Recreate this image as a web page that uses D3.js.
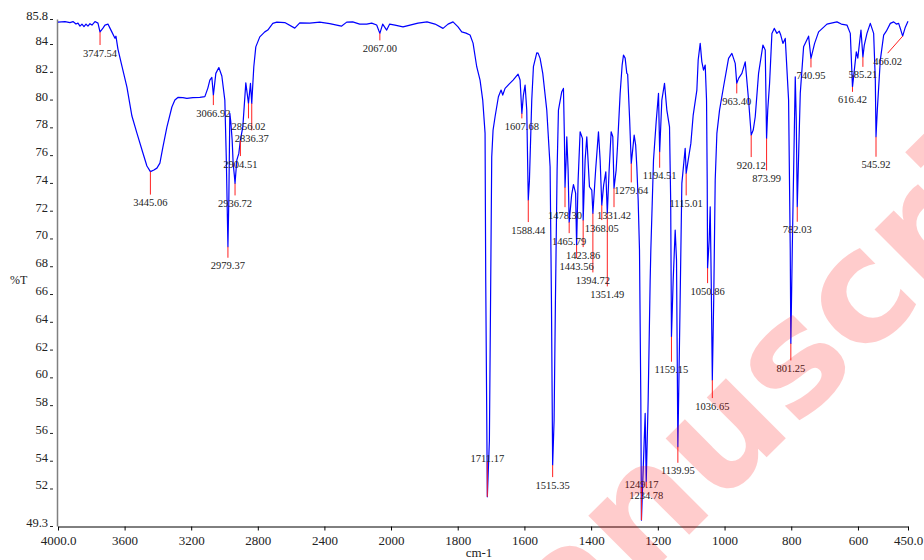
<!DOCTYPE html>
<html>
<head>
<meta charset="utf-8">
<script src="https://cdn.jsdelivr.net/npm/d3@7"></script>
<style>
body { margin: 0; background: #fff; }
svg text { font-family: "Liberation Serif", "Times New Roman", serif; }
</style>
</head>
<body>
<svg id="chart" width="924" height="560"></svg>
<script>
'use strict';

// spectrum (wavenumber cm-1 / %T)
var wavenumber = [
	4000, 3958, 3928, 3910, 3892, 3880, 3868, 3856, 3844, 3832, 3820, 3808, 3796, 3778, 3760,
	3747.54, 3730, 3718, 3700, 3688, 3676, 3664, 3658, 3652, 3640, 3616, 3586, 3556, 3526, 3490,
	3466, 3445.06, 3424, 3406, 3388, 3370, 3346, 3316, 3298, 3280, 3250, 3226, 3190, 3148, 3118,
	3100, 3088, 3076, 3066.92, 3052, 3034, 3016, 2998, 2989, 2979.37, 2974, 2968, 2962, 2954, 2948,
	2941, 2936.72, 2926, 2914, 2904.51, 2890, 2872, 2856.02, 2844, 2836.37, 2824, 2812, 2788, 2758, 2740,
	2710, 2686, 2638, 2578, 2548, 2488, 2428, 2368, 2298, 2266, 2230, 2188, 2146, 2116, 2086,
	2067.00, 2050, 2026, 2008, 1988, 1964, 1943, 1919, 1892, 1868, 1844, 1829, 1814, 1799, 1788,
	1775, 1763, 1754, 1743, 1733, 1725, 1718, 1716, 1711.17, 1705, 1701, 1698, 1694, 1688, 1678,
	1670, 1665, 1658, 1646, 1634, 1619, 1613, 1607.68, 1603, 1598, 1593, 1588.44, 1585, 1578, 1573,
	1563, 1559, 1553, 1545, 1533, 1523, 1519, 1515.35, 1511, 1507, 1502, 1498, 1488, 1483, 1480,
	1478.30, 1475, 1473, 1469, 1465.79, 1458.5, 1453, 1446.5, 1443.56, 1439, 1433, 1426, 1423.86, 1418, 1413,
	1405, 1398, 1394.72, 1386.5, 1378, 1373, 1368.05, 1362.5, 1356, 1351.49, 1346, 1340, 1335, 1331.42, 1325,
	1321, 1313, 1307, 1303, 1298, 1293, 1290.5, 1284.5, 1279.64, 1275.5, 1271, 1266.5, 1263, 1259, 1255,
	1251, 1249.17, 1244, 1238, 1234.78, 1229, 1223, 1221, 1213, 1205, 1198, 1194.51, 1188, 1180, 1173,
	1165, 1161.5, 1159.15, 1154, 1148, 1144, 1139.95, 1134.5, 1128, 1118, 1115.01, 1109, 1101, 1094, 1083,
	1079, 1073, 1068, 1063, 1058, 1054, 1052, 1050.86, 1046, 1043, 1040, 1036.65, 1032.5, 1028, 1023,
	1015, 1003, 988, 978, 968, 963.40, 957.5, 948, 938, 928, 920.12, 914, 908, 898, 885,
	878, 873.99, 870.5, 865, 858, 851, 843, 836, 831.5, 825, 818, 808, 803, 801.25, 797,
	788, 785, 782.03, 777.5, 773, 763, 748, 740.95, 730, 718, 693, 680, 663, 650, 633,
	623, 616.42, 612.5, 605, 600.5, 591, 585.21, 581, 573, 563, 553, 548, 545.92, 542, 533,
	523, 515, 503, 493, 485, 478, 471.5, 466.02, 458, 450
];
var transmittance = [
	85.61, 85.65, 85.58, 85.65, 85.47, 85.54, 85.32, 85.47, 85.29, 85.47, 85.32, 85.50, 85.40, 85.65, 85.54,
	84.90, 85.18, 85.40, 85.47, 85.18, 84.89, 84.60, 84.46, 84.60, 83.67, 82.45, 80.93, 78.85, 77.62, 76.19,
	75.25, 74.85, 74.96, 75.10, 75.46, 76.61, 78.05, 79.50, 80.00, 80.19, 80.18, 80.12, 80.18, 80.19, 80.25,
	80.86, 81.44, 81.63, 80.36, 81.92, 82.34, 81.73, 80.00, 75.68, 69.44, 72.80, 79.04, 78.40, 77.12, 75.44,
	74.60, 74.00, 75.68, 76.16, 77.12, 78.07, 81.24, 79.76, 81.20, 79.76, 82.40, 83.83, 84.55, 84.91, 85.04,
	85.52, 85.61, 85.58, 85.18, 85.56, 85.54, 85.61, 85.50, 85.32, 85.61, 85.63, 85.47, 85.47, 85.54, 85.40,
	84.80, 85.47, 85.04, 85.47, 85.40, 85.27, 85.40, 85.54, 85.63, 85.47, 85.16, 85.47, 85.63, 85.27, 84.91,
	84.82, 84.68, 84.10, 82.40, 81.44, 80.00, 77.62, 67.04, 51.44, 55.50, 67.04, 75.90, 77.84, 78.80, 80.24,
	80.72, 80.36, 80.84, 81.15, 81.44, 81.87, 81.44, 79.04, 80.36, 81.08, 79.28, 72.80, 74.20, 80.00, 82.40,
	83.40, 83.38, 83.00, 81.92, 79.28, 75.20, 65.60, 53.72, 56.96, 65.60, 74.96, 79.28, 80.60, 80.84, 77.12,
	73.73, 75.68, 77.36, 74.96, 71.21, 73.16, 73.91, 73.30, 69.56, 74.24, 77.72, 77.24, 71.36, 75.68, 77.36,
	73.76, 73.52, 71.84, 74.96, 77.72, 75.68, 72.44, 73.88, 74.84, 71.84, 74.96, 77.72, 77.36, 73.66, 74.96,
	76.64, 80.48, 82.52, 83.24, 83.02, 81.92, 81.87, 78.56, 75.44, 76.40, 77.48, 76.76, 75.20, 72.80, 69.20,
	58.40, 49.76, 53.36, 57.44, 52.52, 58.40, 67.04, 69.20, 75.68, 78.44, 80.48, 76.28, 80.00, 81.20, 79.28,
	78.07, 72.80, 62.96, 67.04, 70.64, 68.48, 55.04, 63.44, 74.00, 76.52, 74.72, 75.68, 76.88, 78.92, 80.72,
	82.90, 84.08, 82.75, 82.16, 82.52, 80.00, 74.24, 67.90, 69.92, 72.32, 67.04, 59.84, 65.60, 74.24, 77.60,
	79.28, 80.96, 83.00, 83.36, 82.64, 81.20, 81.58, 81.92, 82.75, 80.00, 77.48, 77.84, 78.80, 81.92, 83.96,
	83.60, 77.24, 79.28, 81.20, 84.80, 85.16, 84.80, 84.96, 84.68, 84.08, 84.44, 80.00, 69.20, 62.48, 69.20,
	81.67, 78.56, 72.32, 76.40, 80.48, 83.83, 84.60, 83.00, 84.08, 84.91, 85.47, 85.54, 85.63, 85.47, 85.40,
	84.80, 80.95, 81.80, 83.47, 83.02, 85.04, 83.11, 83.96, 84.80, 85.52, 84.80, 81.44, 77.36, 79.28, 82.88,
	84.68, 84.96, 85.52, 85.63, 85.47, 85.52, 85.04, 84.60, 85.25, 85.68
];

// picked peaks
var peakLabels = [
	'3747.54', '3445.06', '3066.92', '2979.37', '2936.72', '2904.51', '2856.02', '2836.37', '2067.00',
	'1711.17', '1607.68', '1588.44', '1515.35', '1478.30', '1465.79', '1443.56', '1423.86', '1394.72',
	'1368.05', '1351.49', '1331.42', '1279.64', '1249.17', '1234.78', '1194.51', '1159.15', '1139.95',
	'1115.01', '1050.86', '1036.65', '963.40', '920.12', '873.99', '801.25', '782.03', '740.95',
	'616.42', '585.21', '545.92', '466.02'
];

var xTicks = [4000, 3600, 3200, 2800, 2400, 2000, 1800, 1600, 1400, 1200, 1000, 800, 600, 450];
var xTickLabels = ['4000.0', '3600', '3200', '2800', '2400', '2000', '1800', '1600', '1400', '1200', '1000', '800', '600', '450.0'];
var yTicks = [85.8, 84, 82, 80, 78, 76, 74, 72, 70, 68, 66, 64, 62, 60, 58, 56, 54, 52, 49.3];
var yTickLabels = ['85.8', '84', '82', '80', '78', '76', '74', '72', '70', '68', '66', '64', '62', '60', '58', '56', '54', '52', '49.3'];

// leader lengths under each peak (px), negative = goes up, label above
var leaderLen = [13, 23, 10, 11, 12, 16, 15, 27, 7, -35, 5, 22, 12, 20, 11, 13, 27, 59, 15, 73,
	19, 19, -33, 6, 16, 25, 16, 22, 15, 18, 10, 22, 32, 17, 15, 9, 5, 10, 20, 17];
var leaderDx = peakLabels.map(function (l) { return l === '466.02' ? -15 : 0; });

var svg = d3.select('#chart');

// the x scale is compressed above 2000 cm-1
var x = d3.scaleLinear().domain([4000, 2000, 450]).range([58, 391, 908]);
var y = d3.scaleLinear().domain([49.3, 85.8]).range([526.5, 19.5]);

var points = wavenumber.map(function (w, i) { return [w, transmittance[i]]; });
var tAt = {};
points.forEach(function (p) { tAt[p[0].toFixed(2)] = p[1]; });

// axes
var xAxis = d3.axisBottom(x)
	.tickValues(xTicks)
	.tickFormat(function (d, i) { return xTickLabels[i]; })
	.tickSize(4)
	.tickSizeOuter(0)
	.tickPadding(5);
var gx = svg.append('g')
	.attr('transform', 'translate(0,526.5)')
	.call(xAxis);
gx.select('.domain').attr('stroke', '#000');
gx.selectAll('text')
	.attr('font-size', '13px')
	.attr('fill', '#222')
	.style('font-family', '"Liberation Serif", serif');

var gy = svg.append('g');
gy.append('line')
	.attr('x1', 57.5).attr('x2', 57.5)
	.attr('y1', y(85.8)).attr('y2', y(49.3))
	.attr('stroke', '#808080')
	.attr('stroke-width', 1.5);
gy.selectAll('line.tick')
	.data(yTicks)
	.enter()
	.append('line')
		.classed('tick', true)
		.attr('x1', 50).attr('x2', 53)
		.attr('y1', function (d) { return y(d); })
		.attr('y2', function (d) { return y(d); })
		.attr('stroke', '#222');
gy.selectAll('text')
	.data(yTicks)
	.enter()
	.append('text')
		.attr('x', 48)
		.attr('y', function (d) { return y(d) + 0.5; })
		.attr('text-anchor', 'end')
		.attr('font-size', '12.5px')
		.attr('fill', '#222')
		.text(function (d, i) { return yTickLabels[i]; });

svg.append('text')
	.attr('x', 10).attr('y', 284)
	.attr('font-size', '12px')
	.attr('fill', '#222')
	.text('%T');
svg.append('text')
	.attr('x', 479).attr('y', 557)
	.attr('text-anchor', 'middle')
	.attr('font-size', '13px')
	.attr('fill', '#222')
	.text('cm-1');

// spectrum
var line = d3.line()
	.x(function (d) { return x(d[0]); })
	.y(function (d) { return y(d[1]); });
svg.append('path')
	.datum(points)
	.attr('d', line)
	.attr('fill', 'none')
	.attr('stroke', '#0000ff')
	.attr('stroke-width', 1.2)
	.attr('stroke-linejoin', 'round');

// peak marks
var peaks = peakLabels.map(function (l, i) {
	var w = parseFloat(l);
	return { label: l, w: w, t: tAt[w.toFixed(2)], len: leaderLen[i], dx: leaderDx[i] };
});
var gp = svg.append('g');
gp.selectAll('line')
	.data(peaks)
	.enter()
	.append('line')
		.attr('x1', function (d) { return x(d.w); })
		.attr('y1', function (d) { return y(d.t); })
		.attr('x2', function (d) { return x(d.w) + d.dx; })
		.attr('y2', function (d) { return y(d.t) + d.len; })
		.attr('stroke', '#ff2020')
		.attr('stroke-width', 1);
gp.selectAll('text')
	.data(peaks)
	.enter()
	.append('text')
		.attr('x', function (d) { return x(d.w) + d.dx; })
		.attr('y', function (d) { return y(d.t) + d.len + (d.len < 0 ? 0.5 : 11.5); })
		.attr('text-anchor', 'middle')
		.attr('font-size', '10.5px')
		.attr('fill', '#222')
		.text(function (d) { return d.label; });

// watermark over the plot
svg.append('text')
	.attr('transform', 'translate(456,768) rotate(-45)')
	.attr('font-size', '155px')
	.attr('font-weight', 'bold')
	.style('font-family', '"DejaVu Sans", sans-serif')
	.attr('fill', '#ff0000')
	.attr('fill-opacity', 0.2)
	.text('Manuscript');
</script>
</body>
</html>
